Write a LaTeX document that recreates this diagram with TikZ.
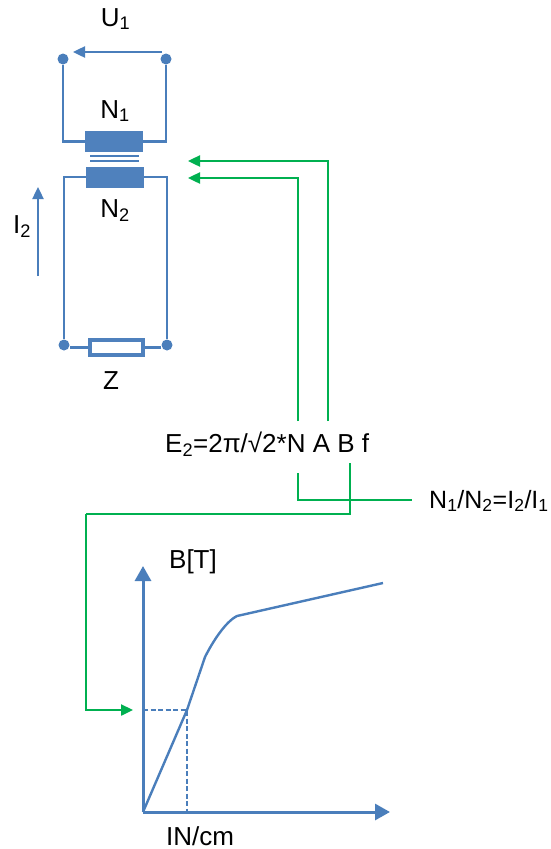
\documentclass[tikz,border=0pt]{standalone}
\usepackage{fontspec}
\setmainfont{Liberation Sans}
\usepackage{tikz}
\usetikzlibrary{positioning}
\usetikzlibrary{arrows.meta}
\definecolor{wireblue}{HTML}{4A7EBB}
\definecolor{coilblue}{HTML}{4F81BD}
\definecolor{linkgreen}{HTML}{00B050}

\begin{document}
\begin{tikzpicture}[
  x=1pt, y=-1pt,
  every node/.style={font=\fontsize{26}{30}\selectfont, text=black},
  lbl/.style={inner sep=0pt, anchor=base},
  terminal/.style={circle, fill=wireblue, inner sep=0pt, minimum size=11pt},
  coil/.style={fill=coilblue, inner sep=0pt, minimum width=58pt, minimum height=21pt},
  load/.style={draw=coilblue, line width=3.5pt, fill=white, inner sep=0pt, minimum width=53pt, minimum height=15pt},
  wire/.style={draw=wireblue, line width=2.4pt},
  core/.style={draw=wireblue, line width=1.6pt},
  arrow/.style={wire, -{Triangle[length=12pt, width=11pt]}},
  axis/.style={draw=wireblue, line width=3pt, -{Triangle[length=15pt, width=16pt]}},
  curve/.style={draw=wireblue, line width=2.4pt},
  dashedline/.style={draw=wireblue, line width=1.6pt, dashed, dash pattern=on 5pt off 2.5pt},
  link/.style={draw=linkgreen, line width=2.4pt},
  linkarrow/.style={link, -{Triangle[length=12pt, width=11pt]}}
]
\useasboundingbox (0,0) rectangle (551,849);

% Nodes
\node[terminal] (T1) at (63,59) {};
\node[terminal] (T2) at (166,59) {};
\node[coil] (C1) at (114,141.5) {};
\node[coil] (C2) at (115,177) {};
\node[terminal] (T3) at (64,345) {};
\node[terminal] (T4) at (167,345) {};
\node[load] (Z) at (116.5,347.5) {};

\node[lbl] (U1) at (115.5,26) {U\textsubscript{1}};
\node[lbl] (N1) at (115,118) {N\textsubscript{1}};
\node[lbl] (N2) at (115,217) {N\textsubscript{2}};
\node[lbl] (I2) at (22,233) {I\textsubscript{2}};
\node[lbl] (ZL) at (111,389) {Z};
\node[lbl, anchor=base west] (E) at (165,452) {E\textsubscript{2}=2π/√2*N A B f};
\node[lbl, anchor=base west, font=\fontsize{25}{30}\selectfont] (Ratio) at (429,508) {N\textsubscript{1}/N\textsubscript{2}=I\textsubscript{2}/I\textsubscript{1}};
\node[lbl] (BT) at (193,568) {B[T]};
\node[lbl] (IN) at (200,845) {IN/cm};

\coordinate (UA) at (162,52);
\coordinate (UB) at (73,52);
\coordinate (IA) at (38,276);
\coordinate (IB) at (38,187);
\coordinate (CoreA) at (90,156);
\coordinate (CoreB) at (139,156);
\coordinate (CoreC) at (90,161);
\coordinate (CoreD) at (139,161);

\coordinate (GN) at (298,421);
\coordinate (GA) at (328,421);
\coordinate (GN1) at (188,178);
\coordinate (GA1) at (188,161);
\coordinate (GN2) at (298,473);
\coordinate (GR) at (412,500);
\coordinate (GB) at (350,463);
\coordinate (GK) at (86,514);
\coordinate (GC) at (133,710);

\coordinate (O) at (143,812);
\coordinate (YEnd) at (143,566);
\coordinate (XEnd) at (390,812);
\coordinate (P) at (187,710);

% Edges
\draw[arrow] (UA) -- (UB);
\draw[wire] (T1) |- (C1.west);
\draw[wire] (T2) |- (C1.east);
\draw[core] (CoreA) -- (CoreB);
\draw[core] (CoreC) -- (CoreD);
\draw[wire] (C2.west) -| (T3);
\draw[wire] (C2.east) -| (T4);
\draw[wire] (T3.east |- Z.west) -- (Z.west);
\draw[wire] (T4.west |- Z.east) -- (Z.east);
\draw[arrow] (IA) -- (IB);

\draw[linkarrow] (GN) |- (GN1);
\draw[linkarrow] (GA) |- (GA1);
\draw[link] (GN2) |- (GR);
\draw[link] (GB) |- (GK);
\draw[linkarrow] (GK) |- (GC);

% Graph
\draw[axis] (O) -- (YEnd);
\draw[axis] (O) -- (XEnd);
\draw[curve] (O) -- (P) -- (205,657) .. controls (212,643) and (225,622) .. (237,616) -- (383,583);
\draw[dashedline] (O |- P) -- (P) -- (P |- O);

\end{tikzpicture}
\end{document}
